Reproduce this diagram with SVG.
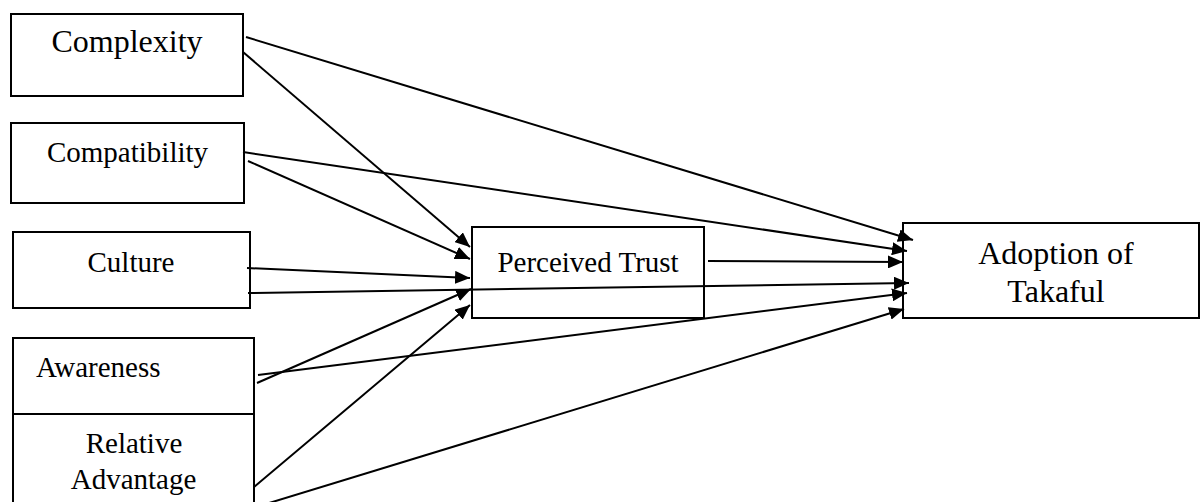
<svg xmlns="http://www.w3.org/2000/svg" width="1202" height="502" viewBox="0 0 1202 502">
<style>
.box{fill:#fff;stroke:#000;stroke-width:2}
.t{fill:#000}
.m{text-anchor:middle}
.c{stroke:#000;stroke-width:2;fill:none;marker-end:url(#ah)}
</style>
<defs>
<marker id="ah" markerUnits="userSpaceOnUse" markerWidth="16" markerHeight="13" refX="15" refY="6.5" orient="auto">
<path d="M0,0 L15,6.5 L0,13 Z" fill="#000"/>
</marker>
</defs>
<rect width="1202" height="502" fill="#fff"/>
<g font-family="Liberation Serif, Times New Roman, DejaVu Serif, serif">
<g id="node-complexity">
<rect class="box" x="11" y="14" width="232" height="82"/>
<text class="t m" x="127" y="52" font-size="32">Complexity</text>
</g>
<g id="node-compatibility">
<rect class="box" x="11" y="123" width="233" height="80"/>
<text class="t m" x="127.5" y="162" font-size="29">Compatibility</text>
</g>
<g id="node-culture">
<rect class="box" x="13" y="232" width="237" height="76"/>
<text class="t m" x="131" y="272" font-size="29">Culture</text>
</g>
<g id="node-awareness">
<rect class="box" x="13" y="338" width="241" height="76"/>
<text class="t" x="36" y="377" font-size="29">Awareness</text>
</g>
<g id="node-relative-advantage">
<rect class="box" x="13" y="414" width="241" height="100"/>
<text class="t m" x="134" y="453" font-size="29">Relative</text>
<text class="t m" x="133.5" y="489" font-size="29">Advantage</text>
</g>
<g id="node-perceived-trust">
<rect class="box" x="472" y="227" width="232" height="91"/>
<text class="t m" x="588" y="272" font-size="29">Perceived Trust</text>
</g>
<g id="node-adoption">
<rect class="box" x="903" y="223" width="296" height="95"/>
<text class="t m" x="1056" y="264" font-size="32">Adoption of</text>
<text class="t m" x="1056" y="302" font-size="32">Takaful</text>
</g>
</g>
<g id="connectors">
<line class="c" x1="246" y1="37" x2="913" y2="240"/>
<line class="c" x1="243" y1="52" x2="470" y2="247"/>
<line class="c" x1="243" y1="152" x2="907" y2="251"/>
<line class="c" x1="248" y1="161" x2="470" y2="259"/>
<line class="c" x1="247" y1="268" x2="470" y2="278"/>
<line class="c" x1="248" y1="293" x2="909" y2="283"/>
<line class="c" x1="257" y1="383" x2="471" y2="289"/>
<line class="c" x1="258" y1="375" x2="907" y2="293"/>
<line class="c" x1="254" y1="487" x2="470" y2="305"/>
<line class="c" x1="256" y1="507" x2="904" y2="309"/>
<line class="c" x1="708" y1="261" x2="903" y2="262"/>
</g>
</svg>
